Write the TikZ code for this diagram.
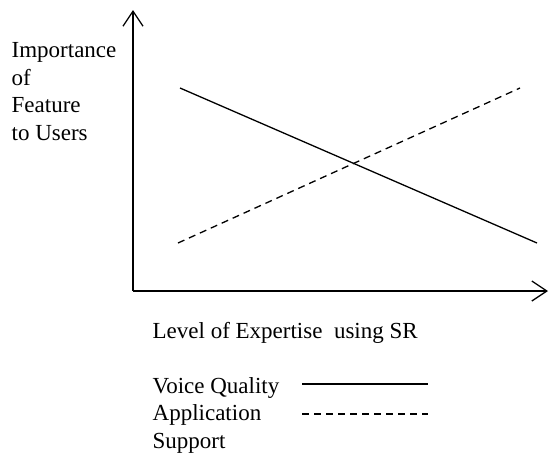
\documentclass[tikz,border=0pt]{standalone}
\usepackage{fontspec}
\setmainfont{Liberation Serif}
\usetikzlibrary{arrows.meta, positioning}

\begin{document}
\begin{tikzpicture}[x=1pt, y=-1pt, line width=1.3pt,
    axis/.style = {-{Straight Barb[length=15pt, width=20pt]}},
    txt/.style = {inner sep=0pt, font=\fontsize{23}{27.5}\selectfont, align=left},
    dashes/.style = {dash pattern=on 7pt off 5pt}]
    \useasboundingbox (0,0) rectangle (549,456);
    % axes
    \coordinate (o) at (133,291);
    \coordinate (ytop) at (133,10);
    \coordinate (xend) at (548,291);
    \draw [axis] (o) -- (ytop);
    \draw [axis] (o) -- (xend);
    \node[txt, anchor=base west] (ylab) at (11,140) {Importance\\of\\Feature\\to Users};
    \node[txt, anchor=base west] (xlab) at (152,338) {Level of Expertise\ \ using SR};
    % the two lines
    \coordinate (vq1) at (180,88);
    \coordinate (vq2) at (537,243);
    \coordinate (as1) at (178,243);
    \coordinate (as2) at (520,88);
    \draw (vq1) -- (vq2);
    \draw [dashes] (as1) -- (as2);
    % legend
    \node[txt, anchor=base west] (vq) at (152,393) {Voice Quality};
    \node[txt, anchor=base west] (as) at (152,448) {Application\\Support};
    \coordinate (l1) at (302,384);
    \coordinate (l2) at (428,384);
    \coordinate (l3) at (302,414);
    \coordinate (l4) at (428,414);
    \draw (l1) -- (l2);
    \draw [dashes] (l3) -- (l4);
\end{tikzpicture}
\end{document}
